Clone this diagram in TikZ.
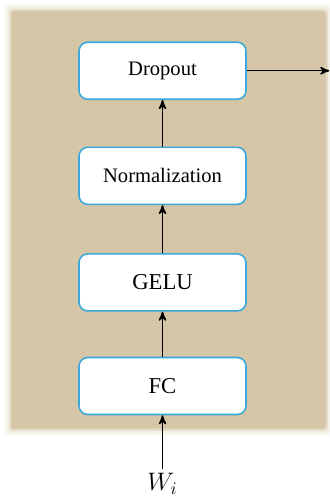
\documentclass[tikz,border=0pt]{standalone}
\usepackage{fontspec}
\setmainfont{Liberation Serif}
\usetikzlibrary{arrows,positioning}
\definecolor{tanbg}{RGB}{213,198,168}
\definecolor{boxblue}{RGB}{59,169,219}
\tikzset{
    layer/.style={draw=boxblue, line width=0.9pt, fill=white, rounded corners=5pt,
        minimum width=3.34cm, minimum height=1.14cm, inner sep=0pt},
    flow/.style={->, >=stealth', line width=0.85pt}
}

\begin{document}
\begin{tikzpicture}

    \useasboundingbox (0,0) rectangle (6.58,9.94);

    % soft background
    \foreach \g/\o in {0.16/0.1,0.11/0.2,0.06/0.4,0.03/0.65}
        \fill[tanbg, opacity=\o, rounded corners=2pt] (0.24-\g,1.38-\g) rectangle (6.5+\g,9.7+\g);
    \fill[tanbg] (0.24,1.38) rectangle (6.5,9.7);

    \node[layer, font=\fontsize{12.9}{15}\selectfont] at (3.25,2.22) (fc) {FC};
    \node[layer, font=\fontsize{12.9}{15}\selectfont, above=0.90cm of fc] (gelu) {GELU};
    \node[layer, font=\fontsize{11.7}{14}\selectfont, above=0.96cm of gelu] (norm) {Normalization};
    \node[layer, font=\fontsize{11.7}{14}\selectfont, above=0.93cm of norm] (drop) {Dropout};

    \node[font=\fontsize{14.5}{16}\selectfont, inner sep=2pt] at (3.25,0.27) (win) {$W_i$};
    \coordinate[right=1.65cm of drop] (out);

    \draw[flow] (win) -- (fc);
    \draw[flow] (fc) -- (gelu);
    \draw[flow] (gelu) -- (norm);
    \draw[flow] (norm) -- (drop);
    \draw[flow] (drop) -- (out);

\end{tikzpicture}
\end{document}
